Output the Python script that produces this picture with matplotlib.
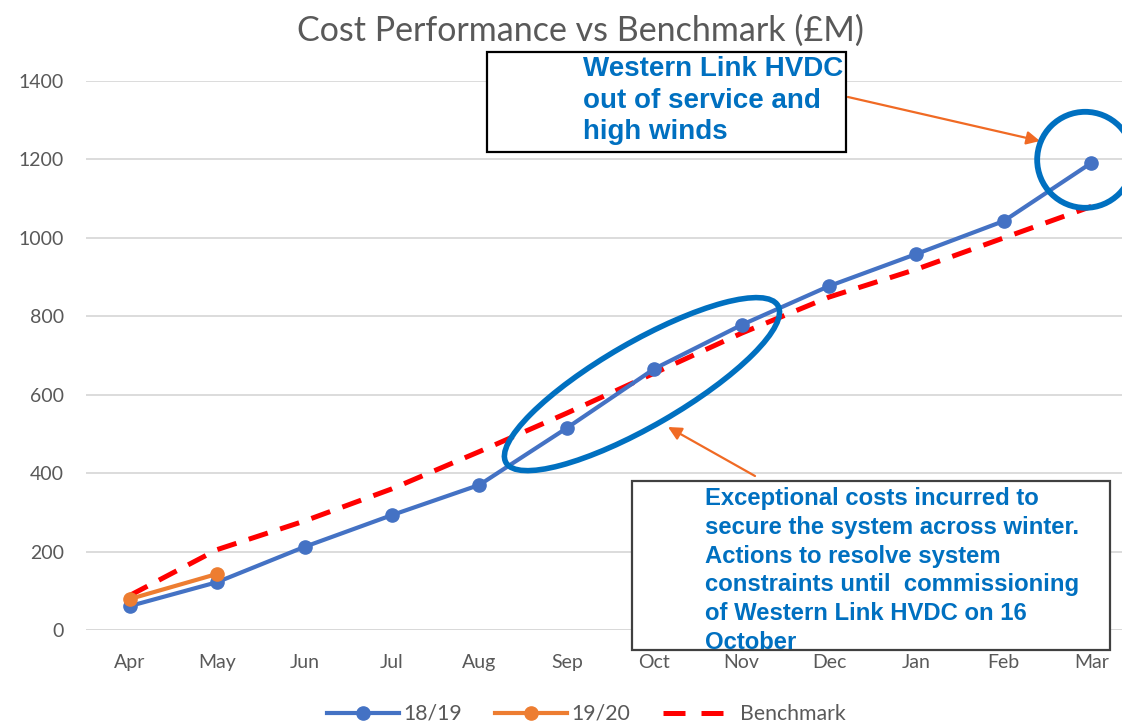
import matplotlib
matplotlib.use("Agg")
import matplotlib.pyplot as plt
from matplotlib.patches import Ellipse, Rectangle
from matplotlib.transforms import IdentityTransform
from matplotlib.lines import Line2D

months = ["Apr", "May", "Jun", "Jul", "Aug", "Sep", "Oct", "Nov", "Dec", "Jan", "Feb", "Mar"]
s1819 = [61, 122, 212, 293, 370, 515, 666, 778, 877, 959, 1043, 1191]
s1920 = [79, 143]
benchmark = [88, 205, 278, 360, 455, 553, 655, 757, 849, 920, 1000, 1080]
yticks = [0, 200, 400, 600, 800, 1000, 1200, 1400]

W, H = 1122, 728
fig = plt.figure(figsize=(W / 100, H / 100), dpi=100)
fig.patch.set_facecolor("white")

def fx(x):
    return x / W

def fy(y):
    return 1 - y / H

ax = fig.add_axes([fx(86), fy(630), (1135 - 86) / W, (630 - 81) / H])
ax.set_xlim(-0.5, 11.5)
ax.set_ylim(0, 1400)
for s in ax.spines.values():
    s.set_visible(False)
ax.set_yticks(yticks)
ax.set_xticks(range(len(months)))
ax.set_xticklabels(months)
ax.tick_params(length=0, labelsize=14, labelcolor="#595959")
ax.tick_params(axis="y", pad=16)
ax.tick_params(axis="x", pad=17)
for lab in ax.get_xticklabels() + ax.get_yticklabels():
    lab.set_fontfamily("Lato")
ax.grid(axis="y", color="#D9D9D9", lw=1.3)
ax.set_axisbelow(True)
ax.axhline(0, color="#D9D9D9", lw=1.3, zorder=0.5)

x = list(range(len(months)))
ax.plot(x, benchmark, color="#FF0000", lw=3.6, dashes=(4, 2.6), zorder=2)
ax.plot(x, s1819, color="#4472C4", lw=3, marker="o", markersize=9.5, zorder=3)
ax.plot(x[:len(s1920)], s1920, color="#ED7D31", lw=3, marker="o", markersize=9.5, zorder=4)

fig.text(fx(580), fy(31), "Cost Performance vs Benchmark (£M)", ha="center", va="center",
         fontsize=24.5, color="#595959", family="Lato")

# Ellipse around Sep-Nov
c1 = ax.transData.transform((5.86, 627))
e1 = Ellipse(c1, width=314, height=84, angle=30, fill=False, edgecolor="#0070C0",
             lw=4, transform=IdentityTransform(), zorder=5)
fig.add_artist(e1)
# Circle around Mar
c2 = ax.transData.transform((10.93, 1199))
e2 = Ellipse(c2, width=96, height=96, angle=0, fill=False, edgecolor="#0070C0",
             lw=4.2, transform=IdentityTransform(), zorder=5)
fig.add_artist(e2)

# Text boxes
r1 = Rectangle((fx(487), fy(152)), (846 - 487) / W, (152 - 52) / H, transform=fig.transFigure,
               facecolor="white", edgecolor="black", lw=1.6, zorder=6)
fig.add_artist(r1)
fig.text(fx(583), fy(56), "Western Link HVDC\nout of service and\nhigh winds", ha="left", va="top",
         fontsize=20, fontweight="bold", color="#0070C0", family="Liberation Sans",
         linespacing=1.28, zorder=7)

r2 = Rectangle((fx(632), fy(650)), (1110 - 632) / W, (650 - 481) / H, transform=fig.transFigure,
               facecolor="white", edgecolor="#404040", lw=1.6, zorder=6)
fig.add_artist(r2)
fig.text(fx(705), fy(487),
         "Exceptional costs incurred to\nsecure the system across winter.\nActions to resolve system\n"
         "constraints until  commissioning\nof Western Link HVDC on 16\nOctober",
         ha="left", va="top", fontsize=17.2, fontweight="bold", color="#0070C0",
         family="Liberation Sans", linespacing=1.32, zorder=7)

# Arrows
arrow_color = "#F06A24"
fig.add_artist(plt.Annotation("", xy=(1040, H - 141), xytext=(848, H - 97), xycoords="figure pixels",
                              textcoords="figure pixels",
                              arrowprops=dict(arrowstyle="-|>", color=arrow_color, lw=1.6,
                                              mutation_scale=20, shrinkA=0, shrinkB=0)))
fig.add_artist(plt.Annotation("", xy=(668, H - 427), xytext=(755, H - 476), xycoords="figure pixels",
                              textcoords="figure pixels",
                              arrowprops=dict(arrowstyle="-|>", color=arrow_color, lw=1.6,
                                              mutation_scale=20, shrinkA=0, shrinkB=0)))

# Legend
handles = [
    Line2D([], [], color="#4472C4", lw=3, marker="o", markersize=9.5),
    Line2D([], [], color="#ED7D31", lw=3, marker="o", markersize=9.5),
    Line2D([], [], color="#FF0000", lw=3.6, dashes=(4.4, 3.2)),
]
leg = fig.legend(handles, ["18/19", "19/20", "Benchmark"], loc="center",
                 bbox_to_anchor=(fx(586), fy(714)), ncol=3, frameon=False,
                 handlelength=3.4, handletextpad=0.2, columnspacing=1.55,
                 prop={"family": "Lato", "size": 15.3})
for t in leg.get_texts():
    t.set_color("#595959")

fig.savefig("out.png", dpi=100)
